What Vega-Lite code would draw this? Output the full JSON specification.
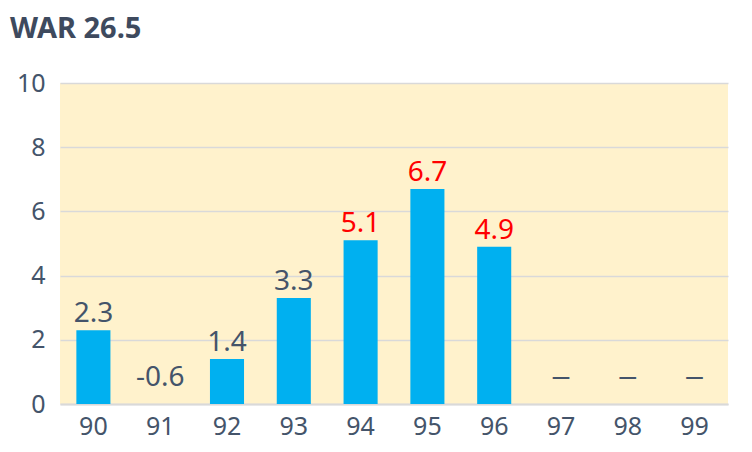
{
  "$schema": "https://vega.github.io/schema/vega-lite/v6.json",
  "autosize": "none",
  "width": 668,
  "height": 321,
  "padding": {"left": 60, "top": 83, "right": 24, "bottom": 48},
  "background": "white",
  "title": {
    "text": "WAR 26.5",
    "anchor": "start",
    "frame": "group",
    "dx": -50,
    "offset": 27,
    "fontSize": 29,
    "fontWeight": "bold",
    "font": "Noto Sans",
    "color": "#3E4A5E"
  },
  "config": {
    "view": {"fill": "#FFF2CC", "stroke": null},
    "font": "Noto Sans"
  },
  "data": {
    "values": [
      {"year": "90", "war": 2.3, "label": "2.3"},
      {"year": "91", "war": -0.6, "label": "-0.6"},
      {"year": "92", "war": 1.4, "label": "1.4"},
      {"year": "93", "war": 3.3, "label": "3.3"},
      {"year": "94", "war": 5.1, "label": "5.1"},
      {"year": "95", "war": 6.7, "label": "6.7"},
      {"year": "96", "war": 4.9, "label": "4.9"},
      {"year": "97", "war": null, "label": "—"},
      {"year": "98", "war": null, "label": "—"},
      {"year": "99", "war": null, "label": "—"}
    ]
  },
  "encoding": {
    "x": {
      "field": "year",
      "type": "ordinal",
      "scale": {"paddingInner": 0.49, "paddingOuter": 0.245},
      "axis": {
        "title": null,
        "labelAngle": 0,
        "labelFontSize": 25,
        "labelColor": "#44546A",
        "labelPadding": 10,
        "ticks": false,
        "domainColor": "#D9D9D9",
        "domainWidth": 2
      }
    }
  },
  "layer": [
    {
      "transform": [{"filter": "datum.war !== null && datum.war > 0"}],
      "mark": {"type": "bar", "color": "#00B0F0"},
      "encoding": {
        "y": {
          "field": "war",
          "type": "quantitative",
          "scale": {"domain": [0, 10]},
          "axis": {
            "title": null,
            "values": [0, 2, 4, 6, 8, 10],
            "labelFontSize": 25,
            "labelColor": "#44546A",
            "labelPadding": 15,
            "ticks": false,
            "domain": false,
            "gridColor": "#D9D9D9",
            "gridWidth": 1.5
          }
        }
      }
    },
    {
      "transform": [{"filter": "datum.war !== null && datum.war > 0"}],
      "mark": {"type": "text", "baseline": "bottom", "dy": -2, "fontSize": 28},
      "encoding": {
        "y": {"field": "war", "type": "quantitative"},
        "text": {"field": "label"},
        "color": {
          "condition": {"test": "datum.war >= 4.5", "value": "#FF0000"},
          "value": "#44546A"
        }
      }
    },
    {
      "transform": [{"filter": "datum.war !== null && datum.war <= 0"}],
      "mark": {"type": "text", "baseline": "middle", "fontSize": 28, "color": "#44546A"},
      "encoding": {
        "y": {"datum": 0.8, "type": "quantitative"},
        "text": {"field": "label"}
      }
    },
    {
      "transform": [{"filter": "datum.war === null"}],
      "mark": {"type": "text", "baseline": "middle", "fontSize": 18, "color": "#44546A", "fontWeight": "bold"},
      "encoding": {
        "y": {"datum": 0.8, "type": "quantitative"},
        "text": {"field": "label"}
      }
    }
  ]
}
